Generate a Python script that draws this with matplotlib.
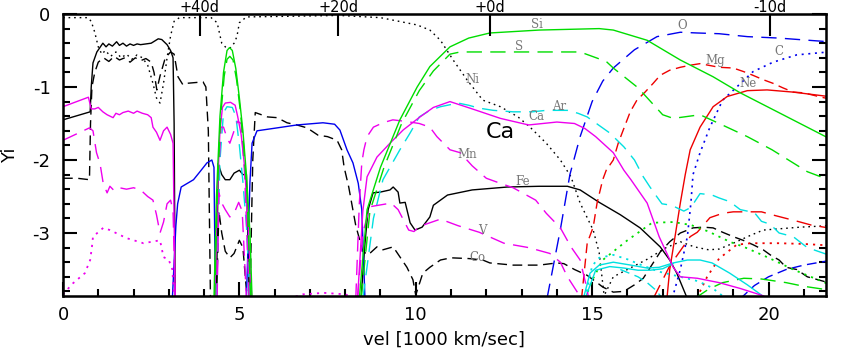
import numpy as np
import matplotlib.pyplot as plt
from matplotlib.ticker import MultipleLocator
from matplotlib.transforms import blended_transform_factory

nan = np.nan

# abundance curves: [vel (1000 km/s), log Yi]
fe = [[0, -1.45], [0.77, -1.34], [0.8, -1.0], [0.85, -0.67], [0.96, -0.52], [1.13, -0.4], [1.22, -0.45],
      [1.3, -0.41], [1.4, -0.44], [1.52, -0.38], [1.6, -0.43], [1.7, -0.4], [1.8, -0.44], [1.9, -0.41],
      [2.0, -0.43], [2.1, -0.41], [2.2, -0.42], [2.35, -0.41], [2.5, -0.4], [2.6, -0.37], [2.7, -0.34],
      [2.8, -0.35], [2.95, -0.42], [3.05, -0.5], [3.12, -0.6], [3.15, -1.5], [3.18, -3.9], [nan, nan],
      [4.35, -3.9], [4.4, -2.05], [4.5, -2.2], [4.6, -2.27], [4.73, -2.27], [4.85, -2.18], [5.0, -2.14],
      [5.1, -2.2], [5.2, -2.2], [5.28, -3.9], [nan, nan],
      [8.45, -3.9], [8.56, -3.14], [8.65, -2.68], [8.79, -2.45], [8.99, -2.44], [9.27, -2.41], [9.36, -2.37],
      [9.5, -2.44], [9.55, -2.59], [9.7, -2.58], [9.84, -2.86], [9.98, -2.96], [10.18, -2.92], [10.4, -2.78],
      [10.5, -2.62], [10.9, -2.48], [11.6, -2.41], [12.6, -2.37], [13.5, -2.36], [14.3, -2.36], [14.66, -2.41],
      [15.2, -2.58], [15.8, -2.75], [16.36, -2.93], [16.93, -3.19], [17.2, -3.37], [17.4, -3.55], [17.7, -3.9]]

ni = [[0, -0.05], [0.7, -0.05], [0.8, -0.1], [0.9, -0.25], [1.0, -0.45], [1.1, -0.55], [1.2, -0.5],
      [1.35, -0.58], [1.5, -0.52], [1.65, -0.6], [1.8, -0.55], [1.95, -0.62], [2.1, -0.56], [2.25, -0.6],
      [2.4, -0.7], [2.55, -0.95], [2.65, -1.15], [2.75, -1.22], [2.85, -0.95], [2.95, -0.6], [3.05, -0.3],
      [3.15, -0.1], [3.3, -0.05], [4.0, -0.05], [4.2, -0.05], [4.37, -0.12], [4.5, -0.4], [4.6, -0.45],
      [4.73, -0.47], [4.85, -0.4], [4.93, -0.31], [5.0, -0.12], [5.2, -0.04], [7.85, -0.02], [9.0, -0.05],
      [10.04, -0.15], [10.4, -0.22], [10.7, -0.36], [11.06, -0.63], [11.45, -0.9], [11.9, -1.18],
      [12.4, -1.27], [12.9, -1.41], [13.24, -1.55], [13.7, -1.77], [14.1, -2.0], [14.4, -2.23],
      [14.66, -2.59], [15.03, -2.96], [15.2, -3.27], [15.35, -3.9]]

co = [[0, -2.25], [0.4, -2.25], [0.75, -2.27], [0.78, -1.5], [0.82, -1.0], [0.9, -0.8], [1.0, -0.66],
      [1.15, -0.6], [1.3, -0.65], [1.45, -0.58], [1.6, -0.63], [1.75, -0.6], [1.9, -0.66], [2.05, -0.6],
      [2.2, -0.64], [2.35, -0.61], [2.5, -0.66], [2.58, -0.8], [2.66, -1.04], [2.75, -0.85], [2.9, -0.6],
      [3.05, -0.52], [3.15, -0.55], [3.26, -0.86], [3.4, -0.97], [3.5, -0.95], [3.97, -0.93], [4.05, -1.0],
      [4.12, -1.6], [4.18, -3.9], [nan, nan],
      [4.35, -3.9], [4.42, -2.7], [4.5, -3.0], [4.6, -3.25], [4.73, -3.34], [4.85, -3.28], [5.0, -3.1],
      [5.1, -3.2], [5.22, -3.9], [nan, nan],
      [5.3, -3.9], [5.38, -2.0], [5.45, -1.35], [5.8, -1.41], [6.07, -1.42], [6.35, -1.49], [6.63, -1.52],
      [6.92, -1.56], [7.23, -1.66], [7.5, -1.68], [7.77, -1.73], [7.9, -1.86], [7.97, -2.1], [8.1, -2.37],
      [8.3, -2.9], [8.5, -3.25], [8.65, -3.3], [8.9, -3.19], [9.07, -3.23], [9.36, -3.19], [9.75, -3.47],
      [9.92, -3.64], [10.0, -3.85], [10.2, -3.55], [10.4, -3.47], [10.7, -3.37], [11.0, -3.34], [11.5, -3.35],
      [11.9, -3.37], [12.1, -3.41], [12.76, -3.44], [13.5, -3.44], [14.0, -3.41], [14.2, -3.42], [14.5, -3.5],
      [14.86, -3.58], [15.14, -3.68], [15.3, -3.74], [15.6, -3.81], [15.9, -3.8], [16.2, -3.71],
      [16.45, -3.62], [16.93, -3.26], [17.2, -3.12], [17.5, -3.0], [17.86, -2.93], [18.15, -2.92],
      [18.43, -2.93], [18.7, -2.99], [19.0, -3.05], [19.28, -3.1], [19.56, -3.16], [19.85, -3.23],
      [20.05, -3.3], [20.3, -3.37], [20.5, -3.47], [20.8, -3.5], [21.1, -3.6], [21.4, -3.64], [21.7, -3.68]]

blk_dot2 = [[15.3, -3.9], [15.6, -3.6], [16.0, -3.5], [16.56, -3.36], [17.1, -3.2], [17.5, -3.12],
            [17.9, -3.19], [18.3, -3.23], [18.6, -3.22], [19.0, -3.14], [19.5, -3.03], [19.85, -2.96],
            [20.9, -2.92], [21.7, -2.9]]

ca = [[0, -1.27], [0.72, -1.14], [0.8, -1.3], [0.9, -1.3], [1.0, -1.28], [1.13, -1.34], [1.25, -1.38],
      [1.42, -1.42], [1.5, -1.36], [1.6, -1.38], [1.7, -1.35], [1.85, -1.33], [2.0, -1.36], [2.1, -1.33],
      [2.25, -1.36], [2.4, -1.38], [2.5, -1.42], [2.55, -1.55], [2.65, -1.62], [2.75, -1.73], [2.85, -1.6],
      [2.95, -1.55], [3.05, -1.65], [3.12, -1.77], [3.18, -3.9], [nan, nan],
      [4.3, -3.9], [4.38, -2.4], [4.45, -1.6], [4.52, -1.28], [4.6, -1.22], [4.75, -1.21], [4.88, -1.25],
      [4.95, -1.4], [5.05, -1.65], [5.15, -2.1], [5.25, -2.9], [5.35, -3.9], [nan, nan],
      [8.35, -3.9], [8.5, -2.7], [8.62, -2.23], [8.9, -1.96], [9.27, -1.77], [9.64, -1.59], [10.12, -1.41],
      [10.5, -1.28], [10.97, -1.2], [11.6, -1.3], [12.4, -1.43], [13.2, -1.52], [13.6, -1.5], [14.0, -1.48],
      [14.5, -1.5], [14.8, -1.57], [15.1, -1.68], [15.6, -1.9], [15.9, -2.14], [16.1, -2.27], [16.56, -2.59],
      [16.9, -3.05], [17.3, -3.47], [17.5, -3.6], [17.98, -3.62], [18.6, -3.68], [19.2, -3.76],
      [19.85, -3.86], [20.0, -3.9]]

mn = [[0, -1.73], [0.75, -1.56], [0.85, -1.6], [0.95, -1.9], [1.05, -2.05], [1.14, -2.32], [1.25, -2.45],
      [1.33, -2.36], [1.45, -2.42], [1.6, -2.38], [1.8, -2.4], [2.0, -2.38], [2.2, -2.41], [2.4, -2.5],
      [2.55, -2.55], [2.65, -2.75], [2.75, -3.0], [2.85, -2.85], [2.95, -2.6], [3.05, -2.55], [3.12, -2.7],
      [3.18, -3.9], [nan, nan],
      [4.32, -3.9], [4.4, -2.3], [4.48, -1.55], [4.55, -1.55], [4.65, -1.7], [4.73, -1.77], [4.85, -1.6],
      [4.95, -1.47], [5.05, -1.5], [5.15, -2.2], [5.28, -3.9], [nan, nan],
      [8.3, -3.9], [8.4, -2.6], [8.47, -2.04], [8.53, -1.86], [8.62, -1.68], [8.8, -1.55], [9.07, -1.49],
      [9.35, -1.45], [9.7, -1.47], [10.1, -1.5], [10.4, -1.55], [10.6, -1.68], [10.97, -1.86], [11.26, -1.9],
      [11.6, -2.08], [12.0, -2.25], [12.4, -2.32], [12.76, -2.38], [13.4, -2.55], [13.7, -2.73],
      [14.1, -2.93], [14.4, -3.19], [14.66, -3.37], [14.86, -3.78], [14.9, -3.9]]

v = [[4.37, -3.9], [4.42, -2.45], [4.5, -2.59], [4.6, -2.68], [4.73, -2.78], [4.85, -2.73], [4.98, -2.58],
     [5.08, -2.7], [5.2, -3.9], [nan, nan],
     [8.35, -3.9], [8.5, -3.0], [8.7, -2.64], [9.3, -2.59], [9.5, -2.68], [9.8, -2.96], [9.95, -2.98],
     [10.1, -2.91], [10.7, -2.81], [11.2, -2.9], [11.8, -2.99], [12.5, -3.14], [13.2, -3.2], [13.8, -3.28],
     [14.1, -3.4], [14.3, -3.6], [14.5, -3.75], [14.7, -3.9]]

mag_dot = [[0, -3.84], [0.28, -3.69], [0.62, -3.55], [0.77, -3.37], [0.82, -3.19], [0.85, -3.05],
           [1.14, -2.93], [1.33, -2.96], [1.8, -3.07], [2.28, -3.14], [2.75, -3.1], [2.85, -3.33],
           [3.0, -3.37], [3.1, -3.5], [3.15, -3.9], [nan, nan],
           [6.4, -3.9], [6.8, -3.84], [7.4, -3.82], [8.0, -3.84], [8.3, -3.9]]

si = [[4.28, -3.9], [4.35, -2.5], [4.45, -1.4], [4.55, -0.8], [4.65, -0.5], [4.72, -0.46], [4.8, -0.5],
      [4.9, -0.75], [5.0, -1.15], [5.1, -1.6], [5.2, -2.2], [5.3, -3.0], [5.36, -3.9], [nan, nan],
      [8.4, -3.9], [8.62, -2.68], [9.0, -2.1], [9.55, -1.45], [10.04, -1.0], [10.4, -0.72], [10.97, -0.45],
      [11.5, -0.33], [12.1, -0.26], [13.5, -0.22], [15.2, -0.2], [15.6, -0.22], [16.56, -0.36],
      [17.5, -0.63], [18.43, -0.86], [19.2, -1.08], [20.33, -1.36], [21.7, -1.7]]

s = [[4.3, -3.9], [4.38, -2.4], [4.47, -1.4], [4.57, -0.85], [4.65, -0.62], [4.73, -0.58], [4.82, -0.63],
     [4.92, -0.9], [5.02, -1.3], [5.12, -1.8], [5.22, -2.5], [5.32, -3.9], [nan, nan],
     [8.45, -3.9], [8.7, -2.7], [9.1, -2.1], [9.6, -1.5], [10.1, -1.05], [10.5, -0.78], [10.97, -0.55],
     [11.26, -0.52], [14.66, -0.52], [15.4, -0.65], [15.6, -0.74], [16.3, -1.01], [17.0, -1.38],
     [17.3, -1.43], [18.06, -1.38], [18.6, -1.5], [19.4, -1.68], [20.1, -1.86], [21.1, -2.16], [21.7, -2.27]]

grn_dot = [[14.8, -3.9], [15.0, -3.65], [15.3, -3.37], [16.0, -3.1], [16.7, -2.86], [17.3, -2.85],
           [17.8, -2.89], [18.3, -2.98], [18.9, -3.12], [19.3, -3.19], [19.96, -3.33], [20.7, -3.5],
           [21.7, -3.7]]

grn_dash2 = [[17.9, -3.9], [18.3, -3.77], [18.7, -3.68], [19.3, -3.62], [19.8, -3.63], [20.5, -3.68],
             [21.0, -3.73], [21.7, -3.78]]

ar = [[4.35, -3.9], [4.45, -2.0], [4.55, -1.35], [4.65, -1.27], [4.8, -1.28], [4.9, -1.4], [5.0, -1.8],
      [5.1, -2.3], [5.2, -2.9], [5.3, -3.9], [nan, nan],
      [8.5, -3.9], [8.8, -2.8], [9.07, -2.27], [9.55, -1.86], [9.84, -1.63], [10.1, -1.41], [10.4, -1.32],
      [10.7, -1.27], [11.2, -1.22], [11.5, -1.25], [11.8, -1.29], [12.2, -1.32], [12.76, -1.34],
      [13.3, -1.34], [13.7, -1.32], [14.3, -1.32], [14.6, -1.36], [14.86, -1.41], [15.5, -1.63],
      [15.9, -1.82], [16.2, -2.0], [16.45, -2.23], [16.64, -2.37], [16.8, -2.48], [16.98, -2.6],
      [17.25, -2.62], [17.6, -2.7], [17.8, -2.65], [18.06, -2.46], [18.4, -2.48], [18.6, -2.52],
      [18.9, -2.57], [19.2, -2.68], [19.6, -2.72], [19.8, -2.84], [20.05, -2.88], [20.3, -3.0],
      [20.7, -3.05], [21.1, -3.2], [21.7, -3.3]]

cyan_a = [[14.75, -3.9], [14.94, -3.55], [15.2, -3.44], [15.6, -3.4], [16.1, -3.44], [16.56, -3.48],
          [16.9, -3.47], [17.3, -3.41], [17.7, -3.37], [18.06, -3.37], [18.4, -3.41], [18.9, -3.55],
          [19.4, -3.71], [19.8, -3.85], [19.9, -3.9]]
cyan_b = [[14.8, -3.9], [15.1, -3.51], [15.5, -3.46], [15.9, -3.48], [16.3, -3.51], [16.64, -3.51],
          [17.0, -3.49], [17.3, -3.42]]
cyan_dot = [[14.8, -3.9], [15.0, -3.45], [15.2, -3.34], [15.6, -3.3], [16.0, -3.36], [16.4, -3.44],
            [16.9, -3.53], [17.5, -3.6], [18.0, -3.66], [18.4, -3.75], [18.8, -3.9]]
cyan_dash2 = [[15.8, -3.5], [16.3, -3.6], [16.56, -3.68], [16.8, -3.78], [17.0, -3.9]]

blue_sol = [[3.1, -3.9], [3.2, -2.9], [3.25, -2.6], [3.35, -2.37], [3.7, -2.27], [3.9, -2.15], [4.08, -2.04],
            [4.22, -2.0], [4.28, -2.1], [4.32, -3.9], [nan, nan],
            [5.2, -3.9], [5.3, -2.3], [5.36, -1.77], [5.5, -1.6], [6.07, -1.56], [6.63, -1.52], [7.37, -1.49],
            [7.7, -1.51], [7.85, -1.59], [8.05, -1.86], [8.22, -2.04], [8.37, -2.32], [8.47, -2.68],
            [8.56, -3.9]]
o = [[13.72, -3.9], [14.1, -2.95], [14.37, -2.2], [14.66, -1.68], [15.0, -1.2], [15.3, -0.92], [15.6, -0.74],
     [16.2, -0.49], [16.84, -0.31], [17.5, -0.25], [17.98, -0.26], [18.6, -0.27], [19.4, -0.31],
     [20.3, -0.33], [21.7, -0.38]]
c = [[17.27, -3.9], [17.5, -3.5], [17.7, -3.05], [17.8, -2.59], [17.86, -2.2], [18.06, -1.9], [18.34, -1.55],
     [18.7, -1.18], [19.1, -1.0], [19.56, -0.79], [20.13, -0.66], [20.8, -0.56], [21.7, -0.52]]
blue_dash2 = [[19.2, -3.9], [19.6, -3.72], [20.0, -3.6], [20.5, -3.5], [21.0, -3.44], [21.7, -3.38]]

mg = [[14.7, -3.9], [14.86, -3.14], [15.03, -2.92], [15.14, -2.59], [15.3, -2.27], [15.4, -2.14], [15.6, -2.0],
      [15.74, -1.77], [15.85, -1.63], [16.08, -1.34], [16.27, -1.18], [16.5, -1.07], [16.73, -0.95],
      [16.93, -0.84], [17.2, -0.77], [17.5, -0.73], [17.8, -0.7], [18.06, -0.68], [18.6, -0.73],
      [19.0, -0.74], [19.3, -0.79], [19.56, -0.84], [19.85, -0.9], [20.13, -0.95], [20.4, -1.01],
      [20.7, -1.07], [21.0, -1.08], [21.5, -1.14], [21.7, -1.16]]
ne = [[17.12, -3.9], [17.2, -3.5], [17.35, -3.05], [17.5, -2.59], [17.64, -2.2], [17.78, -1.86], [18.06, -1.55],
      [18.43, -1.27], [18.83, -1.13], [19.4, -1.05], [19.96, -1.04], [20.7, -1.07], [21.7, -1.13]]
red_dash2 = [[16.73, -3.9], [17.2, -3.45], [17.78, -3.05], [17.98, -2.99], [18.34, -2.79], [18.7, -2.73],
             [19.0, -2.71], [19.8, -2.71], [20.1, -2.75], [20.9, -2.85], [21.2, -2.89], [21.7, -2.93]]
red_dot = [[18.0, -3.9], [18.06, -3.8], [18.26, -3.6], [18.6, -3.35], [19.1, -3.16], [19.5, -3.14],
           [20.3, -3.14], [21.0, -3.15], [21.7, -3.17]]

# element labels
lab_names = ['Si', 'S', 'Ni', 'Ar', 'Ca', 'Mn', 'Fe', 'V', 'Co', 'O', 'Mg', 'C', 'Ne']
lab_x = [13.44, 12.93, 11.62, 14.06, 13.41, 11.45, 13.04, 11.9, 11.74, 17.55, 18.49, 20.3, 19.42]
lab_y = [-0.14, -0.44, -0.9, -1.27, -1.41, -1.92, -2.3, -2.96, -3.33, -0.16, -0.64, -0.52, -0.95]

# epoch marks on the top axis
day_x = [3.88, 7.80, 12.1, 20.05]
day_lab = ['+40d', '+20d', '+0d', '-10d']

GREEN = '#00dd00'
MAG = '#ee00ee'
CYAN = '#00e0e0'
BLUE = '#0000ee'
RED = '#ee0000'
DASH = (0, (7, 4))
LDASH = (0, (11, 6))
DOT = (0, (1.2, 2.8))


def draw(ax, pts, color, ls='-', lw=1.0):
    a = np.array(pts, dtype=float)
    ax.plot(a[:, 0], a[:, 1], color=color, linestyle=ls, lw=lw)


plt.rcParams['axes.unicode_minus'] = False
fig = plt.figure(figsize=(8.46, 3.55), dpi=100)
ax = fig.add_axes([63 / 846, 1 - 296 / 355, (826 - 63) / 846, (296 - 14) / 355])

draw(ax, ni, 'k', DOT)
draw(ax, blk_dot2, 'k', DOT)
draw(ax, co, 'k', DASH)
draw(ax, fe, 'k')
draw(ax, o, BLUE, LDASH)
draw(ax, c, BLUE, DOT, 1.2)
draw(ax, blue_sol, BLUE)
draw(ax, blue_dash2, BLUE, DASH)
draw(ax, mg, RED, DASH)
draw(ax, ne, RED)
draw(ax, red_dash2, RED, LDASH)
draw(ax, red_dot, RED, DOT, 1.3)
draw(ax, grn_dot, GREEN, DOT, 1.3)
draw(ax, grn_dash2, GREEN, LDASH)
draw(ax, ar, CYAN, LDASH)
draw(ax, cyan_a, CYAN)
draw(ax, cyan_b, CYAN)
draw(ax, cyan_dot, CYAN, DOT, 1.3)
draw(ax, cyan_dash2, CYAN, DASH)
draw(ax, v, MAG, LDASH)
draw(ax, mag_dot, MAG, DOT, 1.3)
draw(ax, mn, MAG, LDASH)
draw(ax, ca, MAG)
draw(ax, s, GREEN, LDASH)
draw(ax, si, GREEN)

for name, x, y in zip(lab_names, lab_x, lab_y):
    ax.text(x, y, name, color='#777777', fontsize=8.5, family='DejaVu Serif', ha='center', va='center')
ax.text(12.39, -1.62, 'Ca', fontsize=16, ha='center', va='center')

ax.set_xlim(0, 21.63)
ax.set_ylim(-3.863, 0)
ax.set_xticks([0, 5, 10, 15, 20])
ax.set_yticks([0, -1, -2, -3])
ax.xaxis.set_minor_locator(MultipleLocator(1))
ax.yaxis.set_minor_locator(MultipleLocator(0.2))
ax.tick_params(which='both', direction='in', top=True, right=True, width=1.5, labelsize=13)
ax.tick_params(which='major', length=10)
ax.tick_params(which='minor', length=5)
ax.tick_params(axis='x', pad=7)
ax.tick_params(axis='y', pad=9)
for sp in ax.spines.values():
    sp.set_linewidth(1.8)

# long epoch ticks on top, labels placed by hand so they stay inside the figure
top = ax.twiny()
top.set_xlim(ax.get_xlim())
top.set_xticks(day_x)
top.tick_params(direction='in', length=16, width=1.5, labeltop=False)
tr = blended_transform_factory(ax.transData, fig.transFigure)
for x, lab in zip(day_x, day_lab):
    fig.text(x, 1 - 12.5 / 355, lab, transform=tr, fontsize=10.5, ha='center', va='baseline')

fig.text(444 / 846, 15 / 355, 'vel [1000 km/sec]', fontsize=13, ha='center', va='center')
fig.text(10 / 846, 1 - 155 / 355, 'Yi', fontsize=13, rotation=90, ha='center', va='center')

fig.savefig('out.png', dpi=100)
